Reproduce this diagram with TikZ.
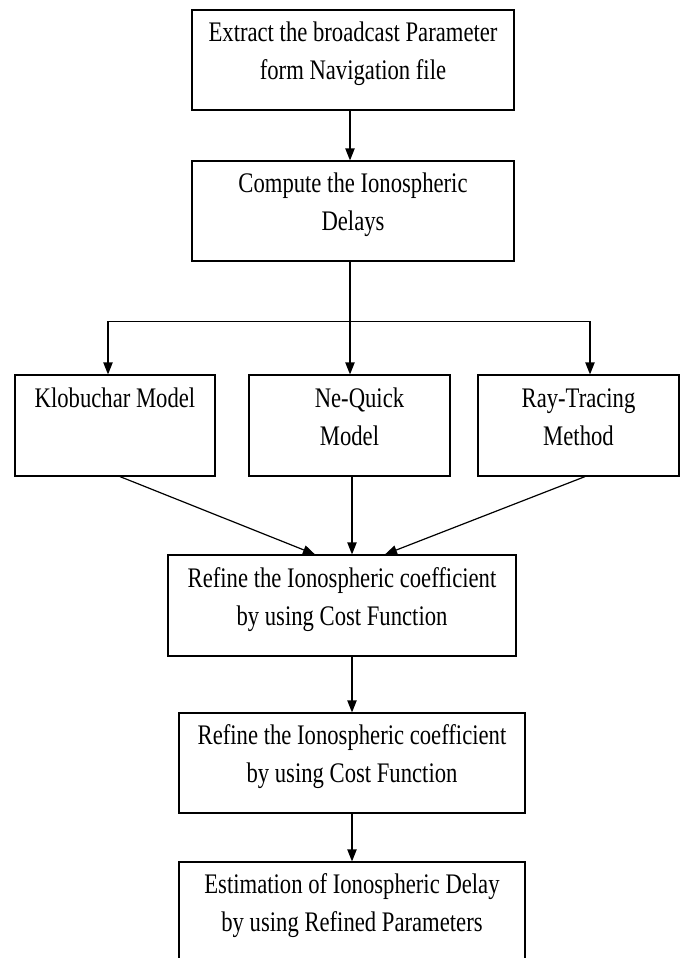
\documentclass[tikz,border=0pt]{standalone}
\usepackage{fontspec}
\setmainfont{Liberation Serif}
\usepackage{graphicx}
\usetikzlibrary{arrows.meta}
\usetikzlibrary{calc}
\newcommand{\tallt}[1]{\raisebox{0pt}[\height][\dimexpr\depth+10.5pt\relax]{\scalebox{1}[1.25]{\begin{tabular}{@{}c@{}}#1\end{tabular}}}}

\begin{document}
\begin{tikzpicture}[x=0.75pt,y=0.75pt,yscale=-1,xscale=1,
  procbox/.style={draw,line width=0.9pt,rectangle,inner sep=0pt,font=\fontsize{17}{22.8}\selectfont},
  flow/.style={line width=0.9pt,-{Triangle[length=9pt,width=7pt]}}]
\useasboundingbox (0,0) rectangle (683,958);
\clip (0,0) rectangle (683,958);

% Process Boxes
\node [procbox,minimum width=241.5pt,minimum height=75pt] (extract) at (353,60) {\tallt{Extract the broadcast Parameter\\form Navigation file}};
\node [procbox,minimum width=241.5pt,minimum height=75pt] (compute) at (353,211) {\tallt{Compute the Ionospheric\\Delays}};
% Model Boxes
\node [procbox,minimum width=150pt,minimum height=75.75pt] (klob) at (115,425.5) {\tallt{Klobuchar Model\\\mbox{}}};
\node [procbox,minimum width=150.75pt,minimum height=75.75pt] (nequick) at (349.5,425.5) {\tallt{\hspace{15pt}Ne-Quick\\Model}};
\node [procbox,minimum width=150.75pt,minimum height=75.75pt] (raytr) at (578.5,425.5) {\tallt{Ray-Tracing\\Method}};
% Refinement Boxes
\node [procbox,minimum width=261pt,minimum height=75.75pt] (refine) at (342,605.5) {\tallt{Refine the Ionospheric coefficient\\by using Cost Function}};
\node [procbox,minimum width=259.5pt,minimum height=75pt] (refinetoo) at (352,763) {\tallt{Refine the Ionospheric coefficient\\by using Cost Function}};
\node [procbox,minimum width=259.5pt,minimum height=75pt] (estim) at (352,912) {\tallt{Estimation of Ionospheric Delay\\by using Refined Parameters}};

%Straight Lines
\coordinate (split) at ($(compute.south)+(-3,60)$);
\draw [flow] ($(extract.south)+(-3,0)$) -- ($(compute.north)+(-3,0)$);
\draw [line width=0.9pt] ($(compute.south)+(-3,0)$) -- (split);
\draw [flow] (split) -| ($(klob.north)+(-7,0)$);
\draw [flow] (split) -| ($(raytr.north)+(11.5,0)$);
\draw [flow] (split) -- (split |- nequick.north);
%Straight Lines
\draw [flow] ($(klob.south)+(5,0)$) -- ($(refine.north)+(-27,0)$);
\draw [flow] ($(nequick.south)+(2.5,0)$) -- ($(refine.north)+(10,0)$);
\draw [flow] ($(raytr.south)+(6.5,0)$) -- ($(refine.north)+(43,0)$);
\draw [flow] ($(refine.south)+(10,0)$) -- (refinetoo);
\draw [flow] (refinetoo) -- (estim);

\end{tikzpicture}
\end{document}
